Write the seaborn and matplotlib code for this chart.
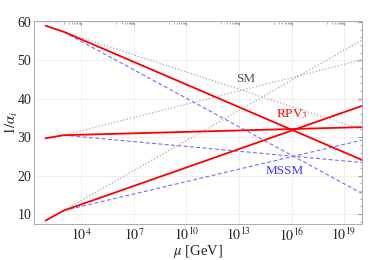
import numpy as np
import pandas as pd
import matplotlib
matplotlib.use('Agg')
import matplotlib.pyplot as plt
import matplotlib.ticker as mticker
import seaborn as sns

# running of inverse gauge couplings
mu_red = [91.19, 1e3, 1e20]
rpv3_a1 = [59.0, 57.4, 24.1]
rpv3_a2 = [29.7, 30.5, 32.6]
rpv3_a3 = [8.3, 10.9, 38.1]

mu_bsm = [1e3, 1e20]
sm_a1 = [57.4, 32.0]
sm_a2 = [30.5, 50.1]
sm_a3 = [10.9, 55.2]
mssm_a1 = [57.4, 15.4]
mssm_a2 = [30.5, 23.4]
mssm_a3 = [10.9, 29.2]

x_ticks = [1e4, 1e7, 1e10, 1e13, 1e16, 1e19]
y_ticks = [10, 20, 30, 40, 50, 60]

sns.set_style('white')
plt.rcParams['font.family'] = ['Liberation Serif', 'DejaVu Serif']
plt.rcParams['mathtext.fontset'] = 'stix'

fig = plt.figure(figsize=(3.82, 2.60), dpi=100)
ax = fig.add_axes([0.089, 0.1385, 0.859, 0.7805])

for ys in [sm_a1, sm_a2, sm_a3]:
    sns.lineplot(x=mu_bsm, y=ys, ax=ax, color='#a8a8a8', lw=0.9,
                 linestyle=(0, (1, 1.6)))
for ys in [mssm_a1, mssm_a2, mssm_a3]:
    sns.lineplot(x=mu_bsm, y=ys, ax=ax, color='#6f6fff', lw=0.8,
                 linestyle=(0, (3.5, 2.2)))
for ys in [rpv3_a1, rpv3_a2, rpv3_a3]:
    sns.lineplot(x=mu_red, y=ys, ax=ax, color='#ff0000', lw=1.3)

ax.set_xscale('log')
ax.set_xlim(10**1.3, 10**20.03)
ax.set_ylim(7.4, 60.2)

ax.xaxis.set_major_locator(mticker.FixedLocator(x_ticks))
minor = [j * t / 10 for t in x_ticks for j in range(1, 10)]
ax.xaxis.set_minor_locator(mticker.FixedLocator(minor))
ax.xaxis.set_major_formatter(mticker.FuncFormatter(
    lambda v, p: r'$10^{%d}$' % round(np.log10(v))))
ax.xaxis.set_minor_formatter(mticker.NullFormatter())
ax.yaxis.set_major_locator(mticker.FixedLocator(y_ticks))
ax.yaxis.set_minor_locator(mticker.MultipleLocator(2))

ax.grid(True, which='major', color='#ececec', lw=0.6)
ax.set_axisbelow(True)
ax.tick_params(which='both', direction='in', top=True, right=True,
               labelsize=10, color='#999999', pad=2)
ax.tick_params(which='major', length=3)
ax.tick_params(which='minor', length=1.8)
for s in ax.spines.values():
    s.set_color('#aaaaaa')
    s.set_linewidth(0.7)

ax.set_xlabel(r'$\mu$ [GeV]', fontsize=10.5)
ax.xaxis.set_label_coords(0.5, -0.135)
ax.xaxis.label.set_va('center')
ax.set_ylabel(r'$1/\alpha_i$', fontsize=10.5)
ax.yaxis.set_label_coords(-0.07, 0.5)
ax.yaxis.label.set_va('center')

ax.text(10**13.4, 45.0, 'SM', color='#555555', fontsize=9.5, ha='center', va='center')
ax.text(10**16.05, 36.0, r'RPV$_3$', color='#ff0000', fontsize=9.5, ha='center', va='center')
ax.text(10**15.6, 21.2, 'MSSM', color='#3a3aff', fontsize=9.5, ha='center', va='center')

fig.savefig('out.png', dpi=100)
